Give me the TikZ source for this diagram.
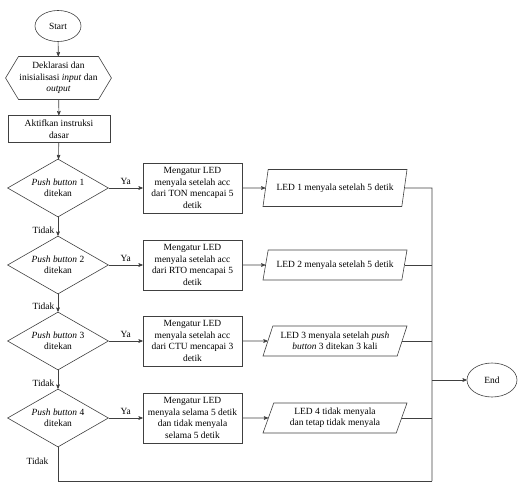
\documentclass[tikz,border=0pt]{standalone}
\usepackage{fontspec}
\setmainfont{Liberation Serif}
\usetikzlibrary{arrows,shapes.geometric,shapes.symbols,positioning}

\begin{document}
\begin{tikzpicture}[x=1bp,y=-1bp,->,>=stealth',line width=0.6pt,draw=black!75,
    every node/.style={font=\fontsize{9.5}{11.5}\selectfont,align=center},
    term node/.style={ellipse,draw,minimum width=46bp,minimum height=31bp,inner sep=0pt},
    prep node/.style={signal,signal to=west and east,signal pointer angle=118,draw,
                      minimum width=103bp,minimum height=43bp,inner sep=1pt},
    proc node/.style={rectangle,draw,minimum width=99bp,minimum height=50bp,inner sep=2pt},
    cond node/.style={diamond,aspect=1.75,draw,minimum width=101bp,minimum height=58bp,inner sep=0pt},
    io node/.style={trapezium,trapezium left angle=64,trapezium right angle=116,
                    trapezium stretches body,draw,minimum width=144bp,minimum height=30bp,inner sep=1pt}]

  \useasboundingbox (0,0) rectangle (525,485);

  \node[term node] (start) at (58,26) {Start};
  \node[prep node] (decl) at (58.5,78) {Deklarasi dan\\inisialisasi \textit{input} dan\\\textit{output}};
  \node[proc node,minimum width=102bp,minimum height=27bp] (init) at (59,129) {Aktifkan instruksi\\dasar};

  \node[cond node] (d1) at (58,188) {\textit{Push button} 1\\ditekan};
  \node[cond node] (d2) at (58,265) {\textit{Push button} 2\\ditekan};
  \node[cond node] (d3) at (58,341) {\textit{Push button} 3\\ditekan};
  \node[cond node] (d4) at (58,418) {\textit{Push button} 4\\ditekan};

  \node[proc node] (r1) at (192.5,188) {Mengatur LED\\menyala setelah acc\\dari TON mencapai 5\\detik};
  \node[proc node] (r2) at (192.5,265) {Mengatur LED\\menyala setelah acc\\dari RTO mencapai 5\\detik};
  \node[proc node] (r3) at (192.5,341) {Mengatur LED\\menyala setelah acc\\dari CTU mencapai 3\\detik};
  \node[proc node] (r4) at (192.5,418) {Mengatur LED\\menyala selama 5 detik\\dan tidak menyala\\selama 5 detik};

  \node[io node,minimum height=37bp] (p1) at (335,188) {LED 1 menyala setelah 5 detik};
  \node[io node] (p2) at (335,265) {LED 2 menyala setelah 5 detik};
  \node[io node] (p3) at (335,341) {LED 3 menyala setelah \textit{push}\\\textit{button} 3 ditekan 3 kali};
  \node[io node] (p4) at (335,418) {LED 4 tidak menyala\\dan tetap tidak menyala};

  \node[term node,minimum width=50bp,minimum height=34bp] (end) at (492,380) {End};

  \coordinate (bustop) at (432,188);
  \coordinate (busbot) at (432,481);

  \path
    (start) edge (decl)
    (decl) edge (init)
    (init) edge (d1)

    (d1) edge node[above] {Ya} (r1)
    (d2) edge node[above] {Ya} (r2)
    (d3) edge node[above] {Ya} (r3)
    (d4) edge node[above] {Ya} (r4)

    (d1) edge node[left,pos=0.7] {Tidak} (d2)
    (d2) edge node[left,pos=0.7] {Tidak} (d3)
    (d3) edge node[left,pos=0.7] {Tidak} (d4)

    (r1) edge (p1)
    (r2) edge (p2)
    (r3) edge (p3)
    (r4) edge (p4)

    (end.west -| bustop) edge (end)
;
  \draw[-] (p1.east) -- (bustop) -- (busbot);
  \draw[-] (p2.east) -- (p2.east -| bustop);
  \draw[-] (p3.east) -- (p3.east -| bustop);
  \draw[-] (p4.east) -- (p4.east -| bustop);
  \draw[-] (d4.south) -- node[left,pos=0.4,xshift=-6bp] {Tidak} (d4.south |- busbot) -- (busbot);
\end{tikzpicture}
\end{document}
